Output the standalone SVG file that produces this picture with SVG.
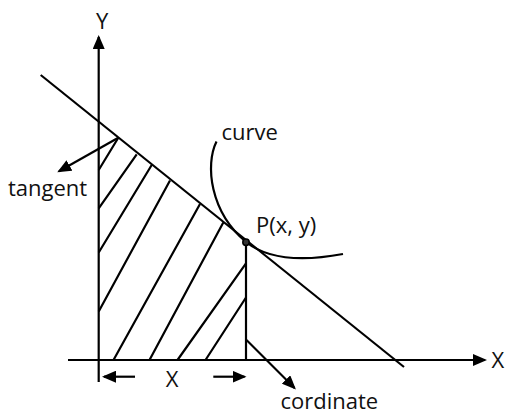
<svg xmlns="http://www.w3.org/2000/svg" width="505" height="416" viewBox="0 0 505 416">
<style>
.ln{stroke:#000;stroke-width:2.2;fill:none;stroke-linecap:butt}
.ar{stroke:#000;stroke-width:2.2;fill:none;marker-end:url(#ah)}
.tx{font-family:"Open Sans","DejaVu Sans",sans-serif;font-size:22px;fill:#111}
</style>
<defs>
<marker id="ah" viewBox="0 0 14 12" refX="12" refY="6" markerWidth="14" markerHeight="12" markerUnits="userSpaceOnUse" orient="auto">
<path d="M0,0 L14,6 L0,12 z" fill="#000"/>
</marker>
</defs>
<rect width="505" height="416" fill="#fff"/>
<g id="axes">
<line class="ar" x1="98.7" y1="382" x2="98.7" y2="37"/>
<line class="ar" x1="68" y1="360" x2="485" y2="360"/>
</g>
<g id="tangent-line">
<line class="ln" x1="40.7" y1="75" x2="404" y2="367"/>
</g>
<g id="curve">
<path class="ln" d="M216.5,141.5 C205,165 210,212 246,242 C266,258 300,262 343,254"/>
</g>
<g id="hatch">
<path class="ln" d="M98.7,170 L118.3,137.7 M98.7,208.3 L136.7,154.3 M98.7,252.5 L151.7,165 M98.7,311.5 L170,180.5 M113.5,360 L200,204 M149.5,360 L223.3,222.5 M177.5,360 L246,263.3 M205.5,360 L246,297.5"/>
</g>
<g id="ordinate">
<line class="ln" x1="246" y1="242" x2="246" y2="360"/>
</g>
<g id="point-P">
<circle cx="246" cy="242.3" r="3.2" fill="#333" stroke="#000" stroke-width="1.5"/>
<text class="tx" x="256" y="233.3">P(x, y)</text>
</g>
<g id="connectors">
<line class="ar" x1="118.3" y1="137.7" x2="59" y2="171.3"/>
<line class="ar" x1="246.5" y1="340" x2="294.5" y2="388"/>
<line class="ar" x1="135" y1="376.7" x2="104" y2="376.7"/>
<line class="ar" x1="213.3" y1="376.7" x2="244.5" y2="376.7"/>
</g>
<g id="label-Y"><text class="tx" x="96" y="28.5">Y</text></g>
<g id="label-X"><text class="tx" x="491.5" y="368">X</text></g>
<g id="label-X-dist"><text class="tx" x="172" y="387" text-anchor="middle">X</text></g>
<g id="label-tangent"><text class="tx" x="8" y="196">tangent</text></g>
<g id="label-curve"><text class="tx" x="221.5" y="140">curve</text></g>
<g id="label-cordinate"><text class="tx" x="280.5" y="409">cordinate</text></g>
</svg>
